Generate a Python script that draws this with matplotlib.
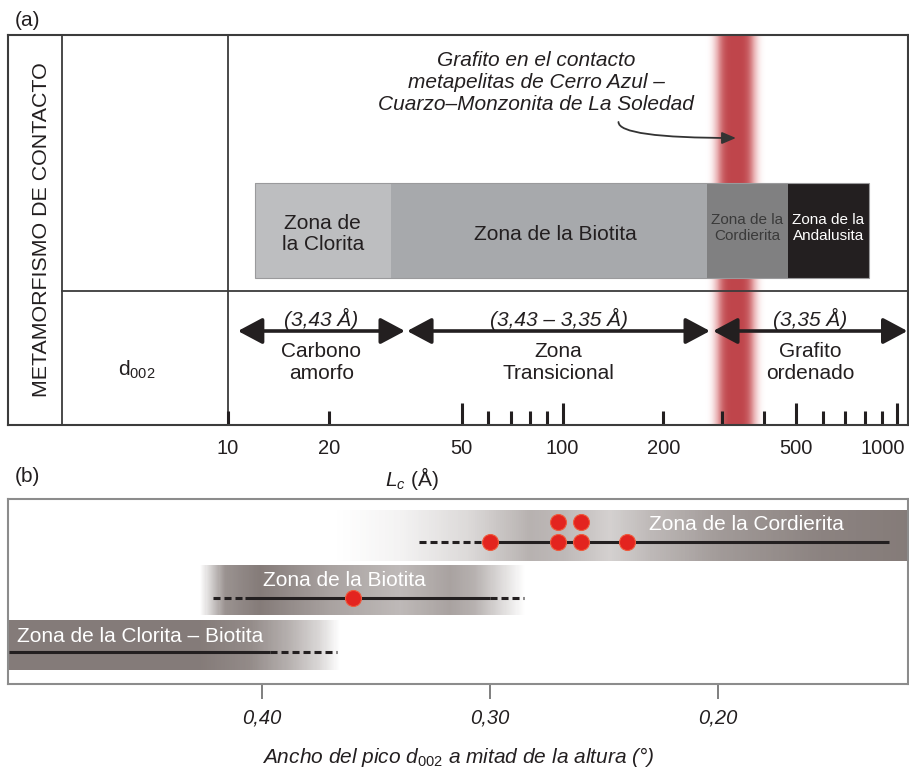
import numpy as np
import matplotlib
matplotlib.use("Agg")
import matplotlib.pyplot as plt
from matplotlib.colors import LinearSegmentedColormap
from matplotlib.patches import FancyArrowPatch
from matplotlib import transforms

plt.rcParams["font.family"] = "Liberation Sans"
plt.rcParams["mathtext.fontset"] = "custom"
plt.rcParams["mathtext.rm"] = "Liberation Sans"
plt.rcParams["mathtext.it"] = "Liberation Sans:italic"

INK = "#231f20"

# (a) contact metamorphism zones against crystallite size Lc (Å)
zone_labels = ["Zona de\nla Clorita", "Zona de la Biotita",
               "Zona de la\nCordierita", "Zona de la\nAndalusita"]
zone_edges = [12, 30.7, 270, 472, 824]
zone_fill = ["#bdbec0", "#a7a9ac", "#808081", "#231f20"]
zone_text = [INK, INK, "#3a3a3a", "white"]
zone_size = [15, 15, 11, 11]
graphite_lc = 330
d002_spans = [(10.7, 33.8), (34.3, 276), (282, 1075)]
d002_values = ["(3,43 Å)", "(3,43 – 3,35 Å)", "(3,35 Å)"]
carbon_types = ["Carbono\namorfo", "Zona\nTransicional", "Grafito\nordenado"]
lc_long_ticks = [50, 100, 500, 1000]
lc_short_ticks = [10, 20, 60, 70, 80, 90, 200, 300, 400, 600, 700, 800, 900]
lc_tick_labels = [10, 20, 50, 100, 200, 500, 1000]

# (b) FWHM of the d002 peak per zone
fwhm_zones = ["Zona de la Cordierita", "Zona de la Biotita",
              "Zona de la Clorita – Biotita"]
fwhm_solid = [(0.30, 0.125), (0.4075, 0.30), (0.511, 0.3965)]
fwhm_dashed = [[(0.331, 0.30)], [(0.4215, 0.4075), (0.30, 0.285)],
               [(0.3965, 0.367)]]
cordierita_fwhm = [0.30, 0.27, 0.26, 0.24]
cordierita_fwhm_upper = [0.27, 0.26]
biotita_fwhm = [0.36]
fwhm_ticks = [0.40, 0.30, 0.20]
fwhm_tick_labels = ["0,40", "0,30", "0,20"]

# row layout of panel (b): band bottom, band top, line, label
rows = [(123, 174, 142, 160), (69, 119, 86, 104), (14, 64, 32, 48)]
label_x = [(0.1877, "center"), (0.364, "center"), (0.5075, "left")]
# shading stops (fwhm, darkness) for each band
band_stops = [
    [(0.3689, 0), (0.3395, 0.08), (0.3088, 0.25), (0.2825, 0.5), (0.2671, 0.45),
     (0.2474, 0.3), (0.2298, 0.45), (0.1991, 0.65), (0.1553, 0.8), (0.1167, 0.85)],
    [(0.4272, 0), (0.4162, 0.7), (0.4009, 0.85), (0.3702, 0.6), (0.3395, 0.45),
     (0.3175, 0.6), (0.3066, 0.5), (0.2956, 0.25), (0.2846, 0)],
    [(0.5114, 0.85), (0.4272, 0.85), (0.4053, 0.75), (0.3877, 0.5),
     (0.3746, 0.25), (0.3658, 0)],
]

W, H = 909, 773


def frame(x0, y0, x1, y1):
    return [x0 / W, 1 - y1 / H, (x1 - x0) / W, (y1 - y0) / H]


fig = plt.figure(figsize=(W / 100, H / 100), dpi=100)
ax = fig.add_axes(frame(8, 35, 908, 425))
axb = fig.add_axes(frame(8, 499, 908, 684))

# ---- panel (a) ----
ax.set_xscale("log")
ax.set_xlim(10 ** 0.342, 10 ** 3.033)
ax.set_ylim(0, 390)
ax.set_xticks([])
ax.set_yticks([])
ax.minorticks_off()
for s in ax.spines.values():
    s.set_color("#3c3c3c")
    s.set_linewidth(1.5)
    s.set_zorder(6)

# blurred red band at the graphite contact
red_cmap = LinearSegmentedColormap.from_list("red", ["white", "#e8aeb0", "#bf454b"])
u = np.linspace(-32, 32, 129)
strength = np.exp(-(np.abs(0.5 * (u[:-1] + u[1:])) / 20) ** 4)
edges = 10 ** (np.log10(graphite_lc) + u / 334.5)
ax.pcolormesh(edges, [0, 390], strength[None, :], cmap=red_cmap,
              vmin=0, vmax=1, zorder=1, shading="flat")

# frame lines
ax.plot([0.06, 0.06], [0, 1], transform=ax.transAxes, color="#3c3c3c", lw=1.3, zorder=5)
ax.axvline(10, color="#3c3c3c", lw=1.3, zorder=5)
ax.axhline(134, xmin=0.06, xmax=1, color="#3c3c3c", lw=1.3, zorder=5)

ax.text(0.0367, 0.5, "METAMORFISMO DE CONTACTO", transform=ax.transAxes,
        rotation=90, ha="center", va="center", fontsize=15.4, color=INK)
ax.text(0.143, 55, r"d$_{\mathrm{002}}$", transform=ax.get_yaxis_transform(),
        ha="center", va="center", fontsize=15, color=INK)

# metamorphic zones
for i, lab in enumerate(zone_labels):
    lo, hi = zone_edges[i], zone_edges[i + 1]
    ax.barh(194.5, hi - lo, left=lo, height=95, color=zone_fill[i],
            edgecolor="none", zorder=3)
    ax.text(np.sqrt(lo * hi) + (4 if i == 1 else 0), 191 if i < 2 else 197,
            lab, ha="center", va="center", fontsize=zone_size[i],
            color=zone_text[i], zorder=4, linespacing=1.1)
ax.barh(194.5, zone_edges[-1] - zone_edges[0], left=zone_edges[0], height=95,
        color="none", edgecolor="#9a9a9c", lw=0.8, zorder=3)

# d002 ranges
for (a, b), val, name in zip(d002_spans, d002_values, carbon_types):
    ax.add_patch(FancyArrowPatch((a, 94), (b, 94),
                                 arrowstyle="<|-|>,head_length=15,head_width=8",
                                 mutation_scale=1, lw=2.6, color=INK,
                                 shrinkA=0, shrinkB=0, zorder=5))
    xc = np.sqrt(a * b)
    ax.text(xc, 106, val, ha="center", va="center", fontsize=15,
            style="italic", color=INK, zorder=5)
    ax.text(xc, 62.5, name, ha="center", va="center", fontsize=15,
            color=INK, linespacing=1.2, zorder=5)

ax.vlines(lc_long_ticks, 0, 22, color=INK, lw=2.2, zorder=5)
ax.vlines(lc_short_ticks, 0, 14, color=INK, lw=2.2, zorder=5)
for v in lc_tick_labels:
    tr = ax.transData
    if v == 1000:
        tr = transforms.offset_copy(ax.transData, fig=fig, x=-14, y=0, units="dots")
    ax.text(v, -23, str(v), transform=tr, ha="center", va="center",
            fontsize=14.5, color=INK, clip_on=False)

ax.text(83.4, 342, "Grafito en el contacto\nmetapelitas de Cerro Azul –\n"
        "Cuarzo–Monzonita de La Soledad", ha="center", va="center",
        fontsize=15, style="italic", color=INK, linespacing=1.2, zorder=5)
ax.annotate("", xy=(graphite_lc, 287), xytext=(147, 303),
            arrowprops=dict(arrowstyle="-|>,head_length=0.7,head_width=0.3",
                            connectionstyle="angle3,angleA=90,angleB=0",
                            color="#333333", lw=1.3, shrinkA=0, shrinkB=0,
                            mutation_scale=12), zorder=5)

fig.text(27 / W, 1 - 21 / H, "(a)", ha="center", va="center", fontsize=15, color=INK)
fig.text(27 / W, 1 - 476 / H, "(b)", ha="center", va="center", fontsize=15, color=INK)
fig.text(412 / W, 1 - 478 / H, r"$L_c$ (Å)", ha="center", va="center",
         fontsize=15, color=INK)

# ---- panel (b) ----
axb.set_xlim(0.5114, 0.1167)
axb.set_ylim(0, 185)
axb.set_yticks([])
for s in axb.spines.values():
    s.set_color("#8c8c8c")
    s.set_linewidth(1.5)
axb.set_xticks(fwhm_ticks, fwhm_tick_labels, fontstyle="italic", fontsize=14.5,
               color=INK)
axb.tick_params(axis="x", direction="out", length=11, width=1.4, color="#7f7f7f", pad=7)

band_cmap = LinearSegmentedColormap.from_list("band", ["white", "#6f6461"])
for (y0, y1, yl, yt), stops in zip(rows, band_stops):
    sx = np.array([p[0] for p in stops])[::-1]
    sv = np.array([p[1] for p in stops])[::-1]
    xe = np.linspace(sx[0], sx[-1], 300)
    xm = 0.5 * (xe[:-1] + xe[1:])
    shade = np.interp(xm, sx, sv)
    axb.pcolormesh(xe, [y0, y1], shade[None, :], cmap=band_cmap, vmin=0, vmax=1,
                   zorder=1, shading="flat")

for (y0, y1, yl, yt), solid, dashed, name, (lx, ha) in zip(
        rows, fwhm_solid, fwhm_dashed, fwhm_zones, label_x):
    axb.plot(solid, [yl, yl], color=INK, lw=2.2, solid_capstyle="butt", zorder=3)
    for seg in dashed:
        axb.plot(seg, [yl, yl], color=INK, lw=2.2, dashes=(2.3, 1.3),
                 dash_capstyle="butt", zorder=3)
    axb.text(lx, yt, name, ha=ha, va="center", fontsize=15, color="white", zorder=4)

dot = dict(ls="none", marker="o", ms=11.5, color="#e3241f", mec="#ef5a3c",
           mew=0.8, zorder=5)
axb.plot(cordierita_fwhm, [rows[0][2]] * len(cordierita_fwhm), **dot)
axb.plot(cordierita_fwhm_upper, [162] * len(cordierita_fwhm_upper), **dot)
axb.plot(biotita_fwhm, [rows[1][2]] * len(biotita_fwhm), **dot)

axb.set_xlabel(r"Ancho del pico $d_{\mathit{002}}$ a mitad de la altura (°)",
               fontstyle="italic", fontsize=15, color=INK, labelpad=12)

fig.savefig("out.png", dpi=100)
